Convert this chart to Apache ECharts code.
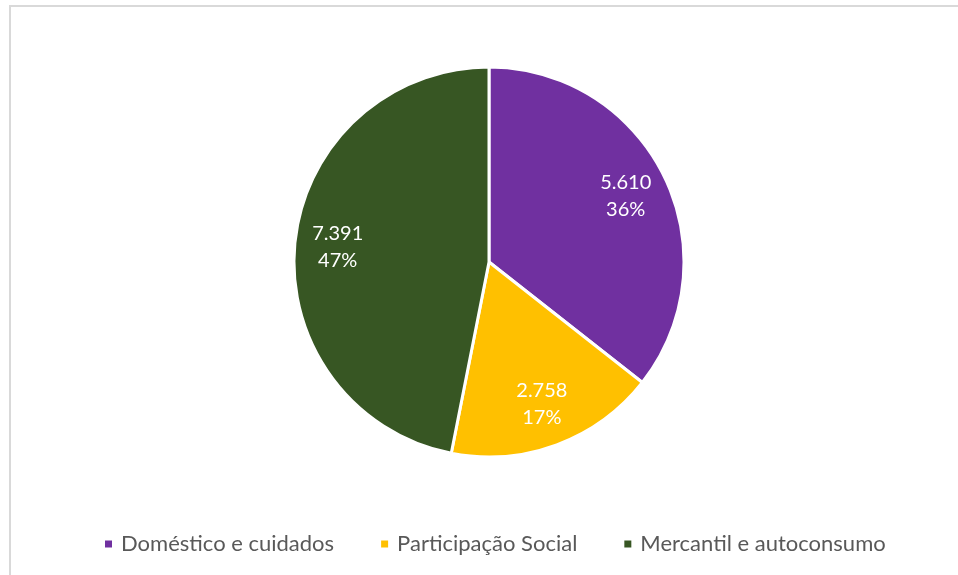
<!DOCTYPE html>
<html>
<head>
<meta charset="utf-8">
<script src="https://cdn.jsdelivr.net/npm/echarts@6/dist/echarts.min.js"></script>
<style>
  html, body { margin: 0; padding: 0; background: #fff; overflow: hidden; }
  #wrap { position: relative; width: 958px; height: 575px; overflow: hidden; }
  #frame { position: absolute; left: 9px; top: 5px; width: 1100px; height: 800px; border: 2px solid #d9d9d9; box-sizing: border-box; }
  #chart { position: absolute; left: 0; top: 0; width: 958px; height: 575px; }
</style>
</head>
<body>
<div id="wrap">
  <div id="frame"></div>
  <div id="chart"></div>
</div>
<script>
const categories = ['Doméstico e cuidados', 'Participação Social', 'Mercantil e autoconsumo'];
const values = [5610, 2758, 7391];
const colors = ['#7030A0', '#FFC000', '#375623'];

function fmtThousands(v) {
  return String(v).replace(/\B(?=(\d{3})+(?!\d))/g, '.');
}

const data = categories.map((name, i) => ({ name: name, value: values[i], itemStyle: { color: colors[i] } }));
const labelData = categories.map((name, i) => ({ name: name, value: values[i] }));

const chart = echarts.init(document.getElementById('chart'), null, { renderer: 'canvas' });
chart.setOption({
  animation: false,
  textStyle: { fontFamily: 'Lato' },
  legend: {
    left: 103,
    top: 533,
    padding: 0,
    orient: 'horizontal',
    itemWidth: 9,
    itemHeight: 9,
    itemGap: 45,
    icon: 'rect',
    data: categories,
    selectedMode: false,
    textStyle: { fontFamily: 'Lato', fontSize: 22, color: '#595959', padding: [0, 0, 0, 3] }
  },
  series: [
    {
      type: 'pie',
      center: [489, 262],
      radius: [0, 195],
      startAngle: 90,
      clockwise: true,
      data: data,
      percentPrecision: 0,
      itemStyle: { borderColor: '#ffffff', borderWidth: 3 },
      label: { show: false },
      labelLine: { show: false },
      emphasis: { disabled: true },
      silent: true
    },
    {
      type: 'pie',
      center: [489, 262],
      radius: [0, 298],
      startAngle: 90,
      clockwise: true,
      data: labelData,
      percentPrecision: 0,
      itemStyle: { color: 'rgba(0,0,0,0)', borderWidth: 0 },
      label: {
        show: true,
        position: 'inside',
        color: '#ffffff',
        fontFamily: 'Lato',
        fontSize: 20,
        lineHeight: 27,
        formatter: function (p) { return fmtThousands(p.value) + '\n' + p.percent + '%'; }
      },
      labelLine: { show: false },
      emphasis: { disabled: true },
      silent: true,
      z: 3
    }
  ]
});
</script>
</body>
</html>
